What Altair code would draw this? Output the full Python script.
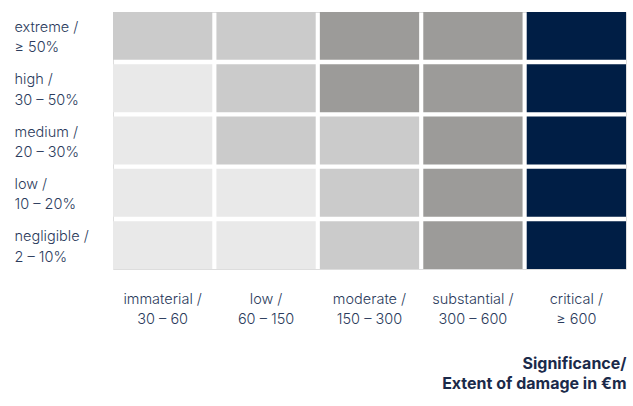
import altair as alt
import pandas as pd

rows = ["extreme /\n≥ 50%", "high /\n30 – 50%", "medium /\n20 – 30%", "low /\n10 – 20%", "negligible /\n2 – 10%"]
cols = ["immaterial /\n30 – 60", "low /\n60 – 150", "moderate /\n150 – 300", "substantial /\n300 – 600", "critical /\n≥ 600"]
# risk level per cell (row by row): 1 = minor, 2 = low, 3 = medium, 4 = high
levels = [
    [2, 2, 3, 3, 4],
    [1, 2, 3, 3, 4],
    [1, 2, 2, 3, 4],
    [1, 1, 2, 3, 4],
    [1, 1, 2, 3, 4],
]
level_names = [1, 2, 3, 4]
level_colors = ["#e9e9e9", "#cbcbcb", "#9c9b99", "#001e45"]

records = []
for i, r in enumerate(rows):
    for j, c in enumerate(cols):
        records.append({"row": r, "col": c, "level": levels[i][j]})
df = pd.DataFrame(records)

text_color = "#2b3b5c"
font = "Inter"

chart = alt.Chart(df).mark_rect().encode(
    x=alt.X("col:N", sort=cols,
            scale=alt.Scale(paddingInner=0.04, paddingOuter=0),
            axis=alt.Axis(
                orient="bottom", ticks=False, domain=False,
                labelExpr="split(datum.label, '\\n')",
                labelAngle=0, labelAlign="center", labelBaseline="middle",
                labelPadding=30, labelLineHeight=20.5,
                labelFont=font, labelFontSize=14.5, labelFontWeight=300,
                labelColor=text_color,
                title=["Significance/", "Extent of damage in €m"],
                titleFont=font, titleFontSize=16, titleFontWeight="bold",
                titleColor="#1b2a4a", titleAnchor="end", titleAlign="right",
                titleBaseline="middle", titleLineHeight=20,
                titleX=513, titleY=94,
            )),
    y=alt.Y("row:N", sort=rows,
            scale=alt.Scale(paddingInner=0.085, paddingOuter=0),
            axis=alt.Axis(
                orient="left", ticks=False, domain=False,
                labelExpr="split(datum.label, '\\n')",
                labelAlign="left", labelBaseline="middle",
                labelPadding=99, labelLineHeight=20.5, labelOffset=-8,
                labelFont=font, labelFontSize=14.5, labelFontWeight=300,
                labelColor=text_color,
                title=None,
            )),
    color=alt.Color("level:O", scale=alt.Scale(domain=level_names, range=level_colors), legend=None),
).properties(
    width=513, height=257,
    autosize=alt.AutoSizeParams(type="none"),
    padding={"left": 113, "top": 12, "right": 7, "bottom": 137},
).configure_view(stroke=None).configure(background="white")

chart.save("out.html", embed_options={"renderer": "svg", "actions": False})
